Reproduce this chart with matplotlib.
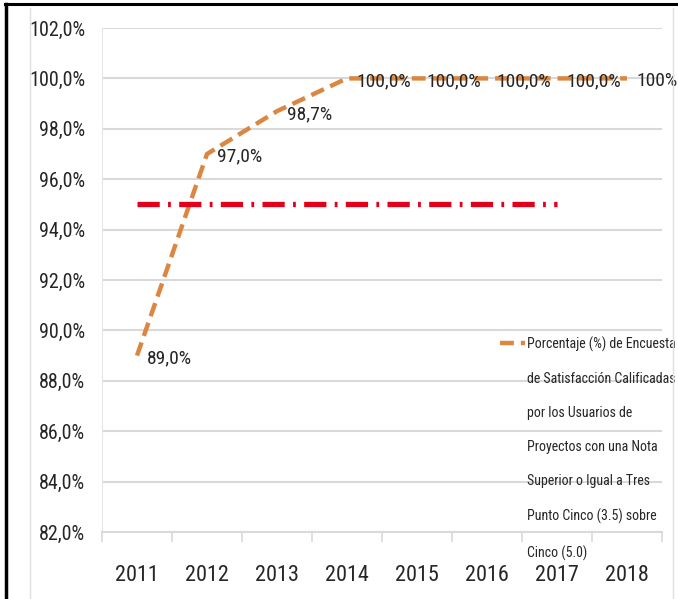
import matplotlib
matplotlib.use('Agg')
import matplotlib.pyplot as plt
import numpy as np
from matplotlib.lines import Line2D
from matplotlib.ticker import FuncFormatter, FixedLocator

plt.rcParams['font.family'] = ['Roboto Condensed', 'DejaVu Sans']
plt.rcParams['lines.scale_dashes'] = False

years = ['2011', '2012', '2013', '2014', '2015', '2016', '2017', '2018']
porcentaje = [89.0, 97.0, 98.7, 100.0, 100.0, 100.0, 100.0, 100.0]
etiquetas = ['89,0%', '97,0%', '98,7%', '100,0%', '100,0%', '100,0%', '100,0%', '100%']
meta = [95.0, 95.0, 95.0, 95.0, 95.0, 95.0, 95.0]
leyenda = ('Porcentaje (%) de Encuesta\nde Satisfacción Calificadas\npor los Usuarios de\n'
           'Proyectos con una Nota\nSuperior o Igual a Tres\nPunto Cinco (3.5) sobre\nCinco (5.0)')

fig = plt.figure(figsize=(6.78, 5.99), dpi=100)
ax = fig.add_axes([102/678, 1-532/599, 560/678, 504/599])

x = list(range(len(years)))
orange = '#DC8741'
l1, = ax.plot(x, porcentaje, color=orange, lw=3.2, dashes=(10, 5), dash_capstyle='butt', zorder=3)
ax.plot(x[:len(meta)], meta, color='#E3001B', lw=3.8, dashes=(16, 6, 2, 6), dash_capstyle='butt', zorder=3)

for xi, v, t in zip(x, porcentaje, etiquetas):
    ax.annotate(t, (xi, v), xytext=(7, -2), textcoords='offset points', ha='left', va='center',
                fontsize=14, color='#262626', zorder=4)

ax.set_xlim(-0.5, 7.5)
ax.set_ylim(82, 102)
ax.set_yticks([82 + 2*i for i in range(11)])
ax.yaxis.set_major_formatter(FuncFormatter(lambda v, p: ('%.1f%%' % v).replace('.', ',')))
ax.set_xticks(x)
ax.set_xticklabels(years)
ax.xaxis.set_minor_locator(FixedLocator([i - 0.5 for i in range(9)]))
ax.tick_params(axis='x', which='major', length=0, pad=24, labelsize=16, colors='#262626')
ax.tick_params(axis='x', which='minor', length=7, color='#D9D9D9', width=1.2)
ax.tick_params(axis='y', length=0, pad=12, labelsize=14.5, colors='#262626')
ax.grid(axis='y', color='#D9D9D9', lw=1.5)
ax.set_axisbelow(True)
for s in ['top', 'right']:
    ax.spines[s].set_visible(False)
ax.spines['left'].set_color('#E6E6E6')
ax.spines['bottom'].set_color('#D9D9D9')
ax.spines['bottom'].set_linewidth(1.5)

leg = ax.legend([l1], [leyenda], loc='upper left', bbox_to_anchor=(500/678, 1-337/599),
                bbox_transform=fig.transFigure, frameon=False, fontsize=10,
                handlelength=1.8, handletextpad=0.15, borderpad=0, borderaxespad=0)
for t in leg.get_texts():
    t.set_linespacing(2.8)
    t.set_color('#262626')
# legend key sits beside the first line of the label, as in the original
h = leg.legend_handles[0]
h.set_ydata(np.asarray(h.get_ydata()) + 76.5)

# chart frame
fig.add_artist(Line2D([5/678, 1], [1-4/599, 1-4/599], color='black', lw=2.2))
fig.add_artist(Line2D([6/678, 6/678], [0, 1-4/599], color='black', lw=2.5))
fig.add_artist(Line2D([30/678, 30/678], [0, 1-8/599], color='#E0E0E0', lw=1))
fig.add_artist(Line2D([673/678, 673/678], [0, 1-8/599], color='#E0E0E0', lw=1))

fig.savefig('out.png', dpi=100)
